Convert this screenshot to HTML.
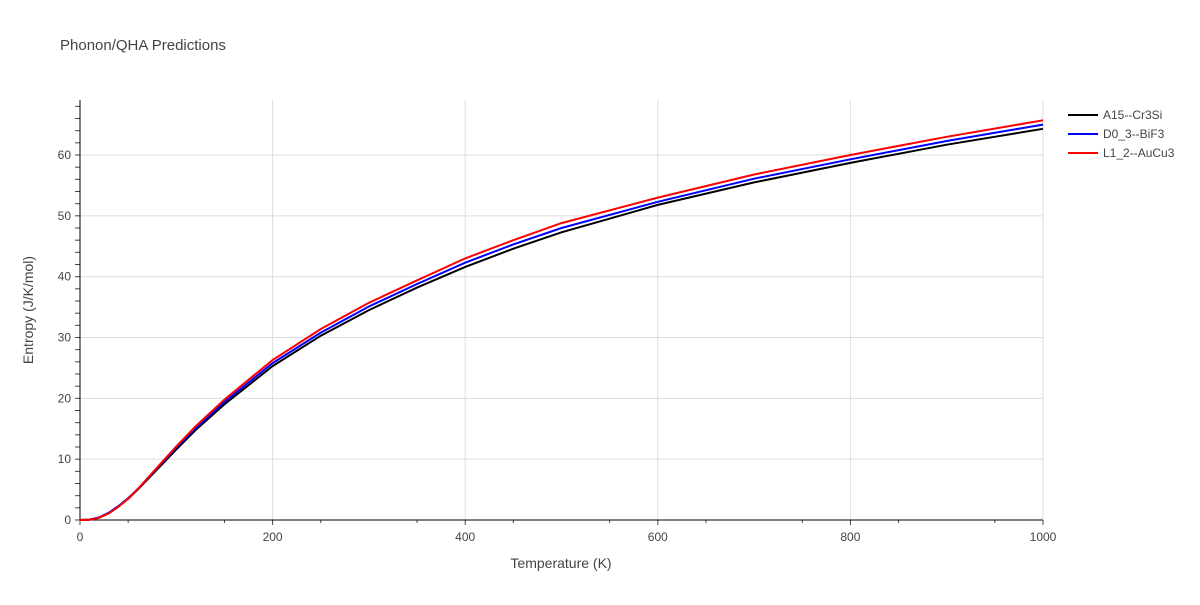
<!DOCTYPE html>
<html><head><meta charset="utf-8"><style>
body{margin:0;background:#fff;font-family:"Liberation Sans",sans-serif;}
svg text{font-family:"Liberation Sans",sans-serif;fill:#444;}
</style></head><body>
<svg id="chart" width="1200" height="600" xmlns="http://www.w3.org/2000/svg">
<rect width="1200" height="600" fill="#fff"/>
<text x="60" y="50" font-size="15" style="fill:#444">Phonon/QHA Predictions</text>
<g id="grid"></g><g id="axes"></g><g id="series"></g>
<text x="561" y="568" font-size="14" text-anchor="middle">Temperature (K)</text>
<text transform="translate(33,310) rotate(-90)" font-size="14" text-anchor="middle">Entropy (J/K/mol)</text>
<g id="legend"></g>
</svg>
<script>
const temps=[0,10,20,30,40,50,60,80,100,120,150,200,250,300,350,400,450,500,600,700,800,900,1000];
const seriesA15=[0,0.05,0.4,1.1,2.2,3.5,5,8.3,11.6,14.8,19,25.3,30.3,34.5,38.2,41.6,44.6,47.3,51.8,55.5,58.7,61.7,64.3];
const seriesD03=[0,0.06,0.45,1.2,2.3,3.6,5.1,8.5,11.9,15.1,19.4,25.8,30.8,35.1,38.8,42.3,45.3,48.0,52.3,56.1,59.3,62.3,65.0];
const seriesL12=[0,0.04,0.38,1.1,2.2,3.5,5.1,8.6,12.1,15.4,19.8,26.3,31.4,35.7,39.4,43.0,46.0,48.8,53.0,56.8,60.0,63.0,65.7];
const names=["A15--Cr3Si","D0_3--BiF3","L1_2--AuCu3"];
const colors=["#000000","#0000ff","#ff0000"];
const xTicks=[0,200,400,600,800,1000];
const yTicks=[0,10,20,30,40,50,60];
const NS="http://www.w3.org/2000/svg";
const X=v=>80+v*0.963, Y=v=>520-v*6.0833;
function mk(tag,attrs,parent){const e=document.createElementNS(NS,tag);for(const k in attrs)e.setAttribute(k,attrs[k]);parent.appendChild(e);return e;}
const grid=document.getElementById('grid'),axes=document.getElementById('axes'),ser=document.getElementById('series'),leg=document.getElementById('legend');
xTicks.forEach(t=>{if(t>0){const l=mk('line',{x1:X(t),x2:X(t),y1:100,y2:520,stroke:'#ddd'},grid);}
 const tx=mk('text',{x:X(t),y:541,'font-size':12,'text-anchor':'middle'},axes);tx.textContent=t;
 mk('line',{x1:X(t),x2:X(t),y1:520,y2:525,stroke:'#444'},axes);});
for(let t=50;t<1000;t+=100)mk('line',{x1:X(t),x2:X(t),y1:520,y2:523,stroke:'#444'},axes);
yTicks.forEach(t=>{if(t>0){const l=mk('line',{x1:80,x2:1043,y1:Y(t),y2:Y(t),stroke:'#ddd'},grid);}
 const tx=mk('text',{x:71,y:Y(t)+4,'font-size':12,'text-anchor':'end'},axes);tx.textContent=t;});
for(let t=0;t<=68;t+=2)mk('line',{x1:75,x2:80,y1:Y(t),y2:Y(t),stroke:'#444'},axes);
mk('line',{x1:80,x2:80,y1:100,y2:520,stroke:'#000'},axes);
mk('line',{x1:80,x2:1043,y1:520,y2:520,stroke:'#000'},axes);
[seriesA15,seriesD03,seriesL12].forEach((s,i)=>{
 const p=mk('path',{d:s.map((v,j)=>(j?'L':'M')+X(temps[j]).toFixed(1)+','+Y(v).toFixed(1)).join(''),fill:'none',stroke:colors[i],'stroke-width':2},ser);
 
 
 const g=mk('g',{},leg);
 
 
 mk('line',{x1:1068,x2:1098,y1:115+i*19,y2:115+i*19,stroke:colors[i],'stroke-width':2},g);
 const t=mk('text',{x:1103,y:119+i*19,'font-size':12},g);t.textContent=names[i];
});
</script>
</body></html>
